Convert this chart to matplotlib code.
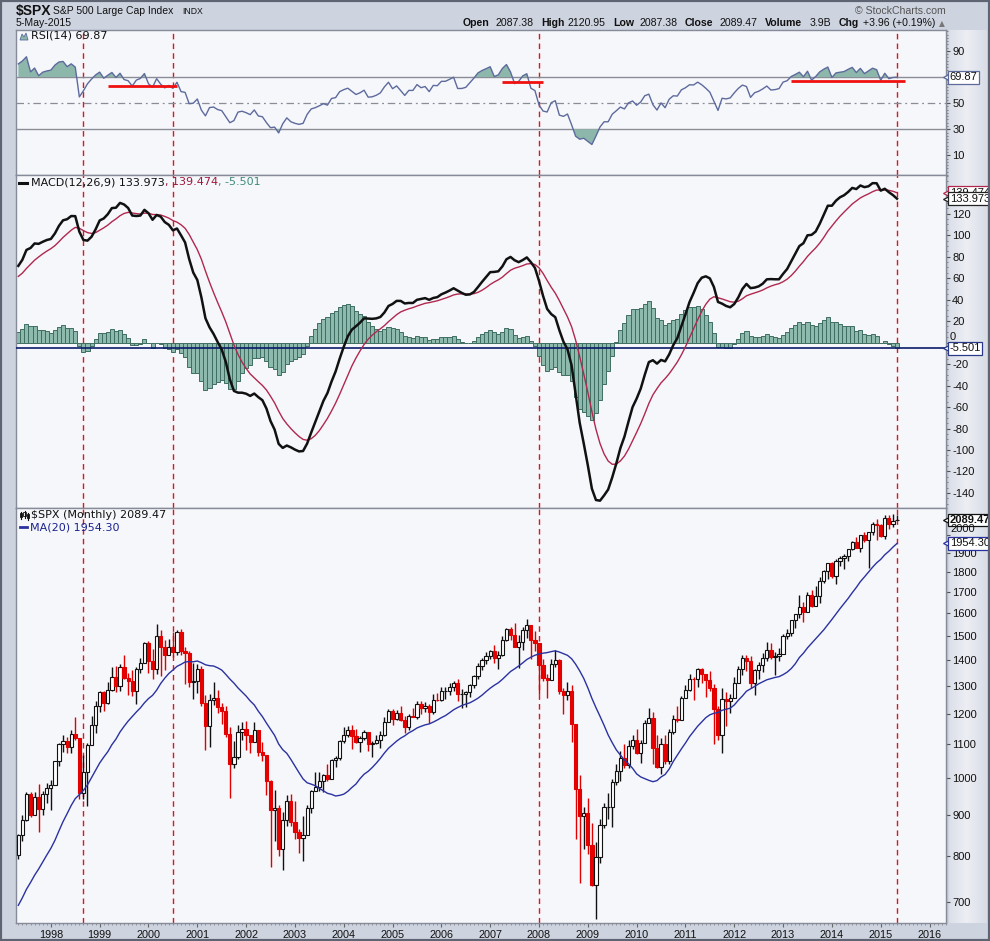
import numpy as np
import matplotlib
matplotlib.use("Agg")
import matplotlib.pyplot as plt
from matplotlib.patches import Polygon, Rectangle
from matplotlib.ticker import MultipleLocator, NullLocator, FuncFormatter
from matplotlib.transforms import blended_transform_factory
from matplotlib.colors import LinearSegmentedColormap

plt.rcParams['font.family'] = ['Liberation Sans', 'DejaVu Sans']

W, H = 990, 941
START_YEAR, START_MONTH = 1997, 5

# monthly closes before the visible window, only to warm up RSI / MACD / MA
warmup_close = [
    438.78, 443.38, 451.67, 440.19, 450.19, 450.53, 448.13, 463.56, 458.93, 467.83, 461.79, 466.45,
    481.61, 467.14, 445.77, 450.91, 456.50, 444.27, 458.26, 475.49, 462.69, 472.35, 453.69, 459.27,
    470.42, 487.39, 500.71, 514.71, 533.40, 544.75, 562.06, 561.88, 584.41, 581.50, 605.37, 615.93,
    636.02, 640.43, 645.50, 654.17, 669.12, 670.63, 639.95, 651.99, 687.33, 705.27, 757.02, 740.74,
    786.16, 790.82, 757.12, 801.34,
]

# visible months: May 1997 .. May 2015
close = [
    848.28, 885.14, 954.31, 899.47, 947.28, 914.62, 955.40, 970.43,
    980.28, 1049.34, 1101.75, 1111.75, 1090.82, 1133.84, 1120.67, 957.28, 1017.01, 1098.67, 1163.63, 1229.23,
    1279.64, 1238.33, 1286.37, 1335.18, 1301.84, 1372.71, 1328.72, 1320.41, 1282.71, 1362.93, 1388.91, 1469.25,
    1394.46, 1366.42, 1498.58, 1452.43, 1420.60, 1454.60, 1430.83, 1517.68, 1436.51, 1429.40, 1314.95, 1320.28,
    1366.01, 1239.94, 1160.33, 1249.46, 1255.82, 1224.42, 1211.23, 1133.58, 1040.94, 1059.78, 1139.45, 1148.08,
    1130.20, 1106.73, 1147.39, 1076.92, 1067.14, 989.82, 911.62, 916.07, 815.28, 885.76, 936.31, 879.82,
    855.70, 841.15, 848.18, 916.92, 963.59, 974.50, 990.31, 1008.01, 995.97, 1050.71, 1058.20, 1111.92,
    1131.13, 1144.94, 1126.21, 1107.30, 1120.68, 1140.84, 1101.72, 1104.24, 1114.58, 1130.20, 1173.82, 1211.92,
    1181.27, 1203.60, 1180.59, 1156.85, 1191.50, 1191.33, 1234.18, 1220.33, 1228.81, 1207.01, 1249.48, 1248.29,
    1280.08, 1280.66, 1294.83, 1310.61, 1270.09, 1270.20, 1276.66, 1303.82, 1335.85, 1377.94, 1400.63, 1418.30,
    1438.24, 1406.82, 1420.86, 1482.37, 1530.62, 1503.35, 1455.27, 1473.99, 1526.75, 1549.38, 1481.14, 1468.36,
    1378.55, 1330.63, 1322.70, 1385.59, 1400.38, 1280.00, 1267.38, 1282.83, 1166.36, 968.75, 896.24, 903.25,
    825.88, 735.09, 797.87, 872.81, 919.14, 919.32, 987.48, 1020.62, 1057.08, 1036.19, 1095.63, 1115.10,
    1073.87, 1104.49, 1169.43, 1186.69, 1089.41, 1030.71, 1101.60, 1049.33, 1141.20, 1183.26, 1180.55, 1257.64,
    1286.12, 1327.22, 1325.83, 1363.61, 1345.20, 1320.64, 1292.28, 1218.89, 1131.42, 1253.30, 1246.96, 1257.60,
    1312.41, 1365.68, 1408.47, 1397.91, 1310.33, 1362.16, 1379.32, 1406.58, 1440.67, 1412.16, 1416.18, 1426.19,
    1498.11, 1514.68, 1569.19, 1597.57, 1630.74, 1606.28, 1685.73, 1632.97, 1681.55, 1756.54, 1805.81, 1848.36,
    1782.59, 1859.45, 1872.34, 1883.95, 1923.57, 1960.23, 1930.67, 2003.37, 1972.29, 2018.05, 2067.56, 2058.90,
    1994.99, 2104.50, 2067.89, 2085.51, 2089.47,
]
high = [
    851.87, 898.70, 961.09, 960.32, 960.46, 983.12, 963.62, 986.25,
    992.65, 1050.02, 1105.65, 1130.52, 1123.95, 1145.15, 1190.58, 1121.01, 1066.11, 1103.78, 1192.97, 1244.93,
    1280.00, 1281.84, 1316.55, 1371.56, 1375.98, 1383.12, 1420.33, 1350.89, 1361.32, 1373.17, 1408.16, 1473.41,
    1478.00, 1444.55, 1552.87, 1527.19, 1481.51, 1488.77, 1517.32, 1525.21, 1530.09, 1454.82, 1438.46, 1389.06,
    1383.37, 1376.38, 1267.42, 1269.30, 1315.93, 1286.62, 1239.78, 1226.27, 1155.40, 1110.61, 1163.38, 1173.62,
    1176.55, 1130.20, 1173.94, 1147.84, 1106.59, 1067.66, 994.46, 965.00, 924.02, 907.44, 951.57, 954.28,
    935.05, 864.64, 895.90, 924.24, 965.38, 1015.33, 1015.41, 1011.01, 1040.29, 1053.79, 1063.65, 1112.56,
    1155.38, 1158.98, 1163.23, 1150.57, 1127.74, 1146.34, 1140.84, 1109.68, 1131.54, 1142.05, 1188.46, 1217.33,
    1217.80, 1212.44, 1229.11, 1191.88, 1199.56, 1219.59, 1245.15, 1245.86, 1243.13, 1233.34, 1270.64, 1275.80,
    1294.90, 1297.57, 1310.88, 1318.16, 1326.70, 1290.68, 1280.42, 1306.74, 1340.28, 1389.45, 1407.89, 1431.81,
    1441.61, 1461.57, 1438.89, 1498.02, 1535.56, 1540.56, 1555.90, 1503.89, 1538.74, 1576.09, 1545.79, 1523.57,
    1471.77, 1404.05, 1344.19, 1404.57, 1440.24, 1404.05, 1292.17, 1313.15, 1303.04, 1167.03, 1007.51, 918.85,
    943.85, 877.86, 832.98, 888.70, 930.17, 956.23, 996.68, 1039.47, 1080.15, 1101.36, 1113.69, 1130.38,
    1150.45, 1112.42, 1180.16, 1219.80, 1205.13, 1131.23, 1120.95, 1129.24, 1148.67, 1196.14, 1227.08, 1262.60,
    1302.67, 1344.07, 1332.28, 1366.94, 1370.58, 1345.20, 1356.48, 1307.38, 1229.29, 1292.66, 1277.55, 1269.37,
    1333.47, 1378.04, 1419.15, 1422.38, 1415.32, 1363.46, 1391.74, 1426.68, 1474.51, 1470.96, 1434.27, 1448.00,
    1509.94, 1530.94, 1570.28, 1597.57, 1687.18, 1654.19, 1698.78, 1709.67, 1729.86, 1775.22, 1813.55, 1849.44,
    1850.84, 1867.92, 1883.97, 1897.28, 1924.03, 1968.17, 1991.39, 2005.04, 2019.26, 2018.19, 2075.76, 2093.55,
    2064.43, 2119.59, 2117.52, 2125.92, 2120.95,
]
low = [
    793.21, 833.80, 883.48, 893.44, 899.47, 855.27, 898.75, 929.66,
    912.83, 980.28, 1032.80, 1076.70, 1074.39, 1074.67, 1114.30, 939.98, 939.98, 923.32, 1098.67, 1136.89,
    1205.46, 1211.89, 1234.67, 1282.56, 1277.31, 1281.41, 1327.99, 1268.37, 1263.80, 1233.70, 1348.56, 1387.38,
    1350.14, 1325.07, 1346.62, 1339.40, 1361.09, 1420.60, 1413.89, 1421.06, 1419.44, 1305.79, 1294.90, 1254.07,
    1274.62, 1228.33, 1081.19, 1091.99, 1232.00, 1203.03, 1165.54, 1124.87, 944.75, 1026.76, 1054.31, 1114.51,
    1081.66, 1074.36, 1106.73, 1063.46, 1048.96, 952.92, 775.68, 833.44, 800.20, 768.63, 872.05, 871.85,
    840.34, 806.29, 788.90, 847.85, 902.83, 963.59, 962.10, 960.84, 990.36, 995.97, 1031.20, 1053.41,
    1105.08, 1124.44, 1087.16, 1105.30, 1076.32, 1113.32, 1078.78, 1060.72, 1101.29, 1090.19, 1127.60, 1173.76,
    1163.75, 1180.95, 1176.92, 1136.15, 1146.18, 1188.30, 1183.55, 1201.07, 1205.35, 1168.20, 1201.07, 1246.59,
    1245.74, 1253.61, 1268.42, 1280.74, 1245.34, 1219.29, 1224.54, 1261.30, 1290.93, 1327.10, 1360.98, 1385.93,
    1403.97, 1389.42, 1363.98, 1416.37, 1476.70, 1484.18, 1454.25, 1370.60, 1439.29, 1489.56, 1406.10, 1435.65,
    1270.05, 1317.52, 1256.98, 1324.35, 1373.07, 1272.00, 1200.44, 1247.45, 1106.42, 839.80, 741.02, 815.69,
    804.47, 734.52, 666.79, 783.32, 866.10, 888.86, 869.32, 978.51, 991.97, 1029.38, 1029.38, 1085.89,
    1071.59, 1044.50, 1105.24, 1170.69, 1040.78, 1028.33, 1010.91, 1039.70, 1039.70, 1131.87, 1173.00, 1186.60,
    1257.62, 1282.86, 1249.05, 1294.70, 1311.80, 1258.07, 1282.86, 1101.54, 1114.22, 1074.77, 1158.66, 1202.37,
    1257.60, 1310.73, 1340.03, 1357.38, 1291.98, 1266.74, 1325.41, 1354.65, 1396.56, 1403.28, 1343.35, 1398.11,
    1426.19, 1485.01, 1501.48, 1536.03, 1581.28, 1560.33, 1604.57, 1627.47, 1633.41, 1646.47, 1746.20, 1767.99,
    1770.45, 1737.92, 1834.44, 1814.36, 1859.79, 1915.98, 1930.67, 1904.78, 1964.04, 1820.66, 2001.01, 1972.56,
    1988.44, 1980.90, 2039.69, 2048.38, 2087.38,
]
last_open = 2087.38

# annotations
vline_months = ['1998-09', '2000-07', '2008-01', '2015-05']
rsi_trendlines = [('1999-03', '2000-08', 62.8), ('2007-04', '2008-02', 66.4), ('2013-03', '2015-07', 67.1)]
year_labels = list(range(1998, 2017))
rsi_ticks = [10, 30, 50, 70, 90]
rsi_tick_text = ['10', '30', '50', '', '90']
macd_ticks = list(range(-140, 121, 20))
price_ticks = list(range(700, 2001, 100))

header_values = ['2087.38', '2120.95', '2087.38', '2089.47', '3.9B', '+3.96 (+0.19%)']
rsi_label, macd_labels = '69.87', ('133.973', '139.474', '-5.501')
price_label, ma_label = '2089.47', '1954.30'


def month_idx(s):
    y, m = map(int, s.split('-'))
    return (y - START_YEAR) * 12 + (m - START_MONTH)


def ema(v, n):
    out = np.full(len(v), np.nan)
    out[n - 1] = np.mean(v[:n])
    k = 2.0 / (n + 1)
    for t in range(n, len(v)):
        out[t] = v[t] * k + out[t - 1] * (1 - k)
    return out


full = np.array(warmup_close + close)
nw = len(warmup_close)

d = np.diff(full)
g, l = np.clip(d, 0, None), np.clip(-d, 0, None)
rsi_full = np.full(len(full), np.nan)
ag, al = g[:14].mean(), l[:14].mean()
rsi_full[14] = 100 - 100 / (1 + ag / al)
for t in range(14, len(d)):
    ag = (ag * 13 + g[t]) / 14
    al = (al * 13 + l[t]) / 14
    rsi_full[t + 1] = 100 - 100 / (1 + ag / al)

macd_full = ema(full, 12) - ema(full, 26)
sig_full = np.full(len(full), np.nan)
sig_full[25:] = ema(macd_full[25:], 9)
ma_full = np.convolve(full, np.ones(20) / 20, mode='full')[:len(full)]

rsi = rsi_full[nw:]
macd = macd_full[nw:]
signal = sig_full[nw:]
hist = macd - signal
ma20 = ma_full[nw:]

c = np.array(close)
o = np.r_[warmup_close[-1], c[:-1]]
o[-1] = last_open
hi, lo = np.array(high), np.array(low)
x = np.arange(len(c))

fig = plt.figure(figsize=(W / 100, H / 100), dpi=100, facecolor='#CDD3DF')
renderer = fig.canvas.get_renderer()


def P(px, py):
    return px / W, 1 - py / H


def rect(top, bottom):
    return [16 / W, 1 - bottom / H, 930 / W, (bottom - top) / H]


def text_row(px, py, parts, **kw):
    # lay pieces of text one after another, like a single coloured label
    for s, col in parts:
        t = fig.text(*P(px, py), s, color=col, **kw)
        px += t.get_window_extent(renderer).width
    return px


# right-hand scale strip
gax = fig.add_axes([946 / W, 1 - 923 / H, 40 / W, (923 - 30) / H])
cm = LinearSegmentedColormap.from_list('strip', [(0, '#B4BAC7'), (0.08, '#DCE0E9'), (0.5, '#ECEEF4'), (1, '#D9DDE6')])
gax.imshow(np.linspace(0, 1, 64)[None, :], aspect='auto', cmap=cm, extent=[0, 1, 0, 1])
gax.axis('off')

ax_rsi = fig.add_axes(rect(30, 175))
ax_macd = fig.add_axes(rect(175, 508))
ax_px = fig.add_axes(rect(508, 923))
axes = [ax_rsi, ax_macd, ax_px]

for ax in axes:
    ax.set_facecolor('#F6F7FB')
    ax.set_xlim(-0.57, 228.05)
    for s in ax.spines.values():
        s.set_color('#858B98')
        s.set_linewidth(1)
    ax.yaxis.tick_right()
    ax.tick_params(axis='y', which='major', direction='out', length=3, width=0.8,
                   colors='#555', labelcolor='#111', labelsize=8, pad=1.5)
    ax.tick_params(axis='y', which='minor', direction='out', length=1.5, width=0.6, colors='#777')
    for v in vline_months:
        ax.axvline(month_idx(v), color='#E0141B', lw=1, dashes=(4, 3), zorder=1)

for ax in (ax_rsi, ax_macd):
    ax.tick_params(axis='x', which='both', bottom=False, labelbottom=False)


def valbox(ax, yv, text, ec, bold=False, z=10):
    tr = blended_transform_factory(ax.transAxes, ax.transData)
    ax.plot([1.0], [yv], marker='<', ms=5, mfc='white', mec=ec, mew=0.9,
            transform=tr, clip_on=False, zorder=z)
    ax.text(1.004, yv, text, transform=tr, ha='left', va='center', fontsize=8,
            fontweight='bold' if bold else 'normal', color='#111', clip_on=False, zorder=z,
            bbox=dict(boxstyle='square,pad=0.12', fc='white', ec=ec, lw=0.9))


# RSI panel
ax_rsi.set_ylim(-5, 106)
ax_rsi.set_yticks(rsi_ticks)
ax_rsi.set_yticklabels(rsi_tick_text)
ax_rsi.yaxis.set_minor_locator(MultipleLocator(2.5))
for lvl in (70, 30):
    ax_rsi.axhline(lvl, color='#8A8D96', lw=1, zorder=1)
ax_rsi.axhline(50, color='#8A8D96', lw=0.9, dashes=(6, 3, 1.5, 3), zorder=1)
ax_rsi.fill_between(x, rsi, 70, where=rsi > 70, interpolate=True, color='#8DB7AB', lw=0, zorder=2)
ax_rsi.fill_between(x, rsi, 30, where=rsi < 30, interpolate=True, color='#8DB7AB', lw=0, zorder=2)
ax_rsi.plot(x, rsi, color='#5D6A9C', lw=1, zorder=3)
for a, b, lvl in rsi_trendlines:
    ax_rsi.hlines(lvl, month_idx(a), month_idx(b), color='#F01010', lw=2, zorder=4)
valbox(ax_rsi, rsi[-1], rsi_label, '#5D6A9C')

# MACD panel
ax_macd.set_ylim(-154, 156)
ax_macd.set_yticks(macd_ticks)
ax_macd.set_yticklabels(['' if v == 0 else str(v) for v in macd_ticks])
ax_macd.yaxis.set_minor_locator(MultipleLocator(5))
# the zero label peeks out just above the histogram value box
fig.text(*P(950, 336.5), '0', fontsize=8, va='center', color='#111')
ax_macd.bar(x, hist, width=1.0, color='#8EBAAE', edgecolor='#3E6E61', lw=0.7, zorder=2)
ax_macd.axhline(hist[-1], color='#0B1A6A', lw=1.2, zorder=3)
ax_macd.plot(x, signal, color='#B0284E', lw=1, zorder=4)
ax_macd.plot(x, macd, color='#111111', lw=1.8, zorder=5)
valbox(ax_macd, signal[-1], macd_labels[1], '#B0284E', z=10)
valbox(ax_macd, macd[-1], macd_labels[0], '#222222', z=11)
valbox(ax_macd, hist[-1], macd_labels[2], '#2A3A8A', z=11)

# price panel
ax_px.set_yscale('log')
ax_px.set_ylim(660, 2163)
ax_px.set_yticks(price_ticks)
# 2000 is nudged up above the MA box, as on the original
ax_px.set_yticklabels(['' if v == 2000 else str(v) for v in price_ticks])
ax_px.yaxis.set_minor_locator(NullLocator())
fig.text(*P(950, 529), '2000', fontsize=8, va='center', color='#111')
up = c >= o
edge = np.where(up, '#111111', '#E00000')
face = np.where(up, '#FFFFFF', '#E80000')
ax_px.vlines(x, lo, hi, colors=edge, lw=1, zorder=2)
ax_px.bar(x, np.abs(c - o), bottom=np.minimum(o, c), width=0.8, color=face,
          edgecolor=edge, lw=0.8, zorder=3)
ax_px.plot(x, ma20, color='#2A32A0', lw=1, zorder=4)
valbox(ax_px, c[-1], price_label, '#111111', bold=True)
valbox(ax_px, ma20[-1], ma_label, '#2A32A0')

ax_px.set_xticks([month_idx(f'{y}-01') for y in year_labels])
ax_px.set_xticklabels([str(y) for y in year_labels])
ax_px.xaxis.set_minor_locator(MultipleLocator(1))
ax_px.tick_params(axis='x', which='major', direction='out', length=3, width=0.8,
                  colors='#666', labelcolor='#111', labelsize=7.8, pad=2)
ax_px.tick_params(axis='x', which='minor', direction='out', length=1.5, width=0.6, colors='#888')

# header
fig.text(*P(16, 11), '$SPX', fontsize=10, fontweight='bold', va='center', color='#111')
fig.text(*P(53, 11), 'S&P 500 Large Cap Index', fontsize=7.5, va='center', color='#111')
fig.text(*P(182, 11.5), 'INDX', fontsize=6.2, va='center', color='#111')
fig.text(*P(16, 23.5), '5-May-2015', fontsize=7.6, va='center', color='#111')
fig.text(*P(946, 10.5), '\u00a9 StockCharts.com', fontsize=7.6, va='center', ha='right', color='#555')
head = [('Open', 463, True), (header_values[0], 496, False), ('High', 541, True),
        (header_values[1], 568, False), ('Low', 613, True), (header_values[2], 640, False),
        ('Close', 685, True), (header_values[3], 720, False), ('Volume', 765, True),
        (header_values[4], 810, False), ('Chg', 839, True), (header_values[5], 863, False)]
for s, px, b in head:
    fig.text(*P(px, 23.5), s, fontsize=7.6, fontweight='bold' if b else 'normal',
             va='center', color='#111')
fig.text(*P(942, 23.5), '\u25b2', fontsize=5.5, va='center', ha='center', color='#777', family='DejaVu Sans')

# panel legends
lab = dict(fontsize=8, va='center', family='DejaVu Sans')
fig.patches.append(Polygon([P(20, 40), P(22, 34), P(24, 37), P(26, 33), P(28, 40)],
                           closed=True, transform=fig.transFigure, fc='#8DB7AB', ec='#5D6A9C', lw=0.6))
fig.text(*P(31, 36), f'RSI(14) {rsi_label}', color='#111', **lab)

fig.lines.append(plt.Line2D([19 / W, 27 / W], [1 - 182.5 / H] * 2, transform=fig.transFigure,
                            color='#111', lw=2.2))
text_row(31.5, 182.5, [(f'MACD(12,26,9) {macd_labels[0]}', '#111'),
                       (f', {macd_labels[1]}', '#A0163C'),
                       (f', {macd_labels[2]}', '#3F8A7A')], **lab)

for cx, y0, y1, b0, b1, f in [(21, 512, 519, 513, 517, '#111'), (24.5, 511, 518, 512, 516, '#F6F7FB'),
                              (28, 513, 520, 514, 518, '#111')]:
    fig.lines.append(plt.Line2D([cx / W] * 2, [1 - y0 / H, 1 - y1 / H], transform=fig.transFigure,
                                color='#111', lw=0.8))
    fig.patches.append(Rectangle(P(cx - 1.2, b1), 2.4 / W, (b1 - b0) / H, transform=fig.transFigure,
                                 fc=f, ec='#111', lw=0.6))
fig.text(*P(31.5, 515.5), f'$SPX (Monthly) {price_label}', color='#111', **lab)
fig.lines.append(plt.Line2D([20 / W, 27 / W], [1 - 527 / H] * 2, transform=fig.transFigure,
                            color='#2A32A0', lw=2))
fig.text(*P(29.5, 527), f'MA(20) {ma_label}', color='#1A228C', **lab)

fig.patches.append(Rectangle((0, 0), 1, 1, transform=fig.transFigure, fill=False, ec='#5E6472', lw=3))

fig.savefig('out.png', dpi=100, facecolor=fig.get_facecolor())
